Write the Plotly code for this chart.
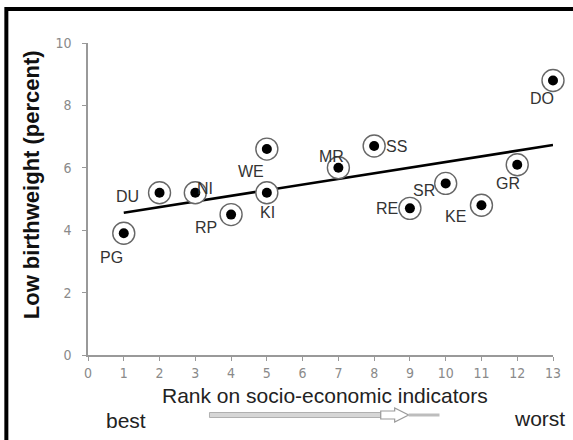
import numpy as np
import plotly.graph_objects as go

# Area codes, their socio-economic rank and low-birthweight rate (%)
codes = ["PG", "DU", "NI", "RP", "WE", "KI", "MR", "SS", "RE", "SR", "KE", "GR", "DO"]
rank = [1, 2, 3, 4, 5, 5, 7, 8, 9, 10, 11, 12, 13]
low_bw = [3.9, 5.2, 5.2, 4.5, 6.6, 5.2, 6.0, 6.7, 4.7, 5.5, 4.8, 6.1, 8.8]

x_ticks = list(range(0, 14))
y_ticks = [0, 2, 4, 6, 8, 10]

# label offsets from each point, in pixels (right, down)
label_offsets = [(-12, 24), (-32, 4), (10, -4), (-25, 13), (-16, 22), (1, 20),
                 (-7, -11), (22, 1), (-23, 0), (-22, 7), (-26, 11), (-9, 19), (-11, 18)]

W, H = 573, 440
L, R, T, B = 88, 18, 43, 85
PW, PH = W - L - R, H - T - B


def px(x):
    return (x - L) / PW


def py(y):
    return (H - B - y) / PH


# least-squares trend line
slope, intercept = np.polyfit(rank, low_bw, 1)
fit_x = [min(rank), max(rank)]
fit_y = [intercept + slope * v for v in fit_x]

fig = go.Figure()
fig.add_trace(go.Scatter(x=fit_x, y=fit_y, mode="lines",
                         line=dict(color="black", width=2.6),
                         hoverinfo="skip", showlegend=False))
fig.add_trace(go.Scatter(x=rank, y=low_bw, mode="markers",
                         marker=dict(size=22, color="white",
                                     line=dict(color="#666", width=1.4)),
                         cliponaxis=False, hoverinfo="skip", showlegend=False))
fig.add_trace(go.Scatter(x=rank, y=low_bw, mode="markers", text=codes,
                         marker=dict(size=10, color="black"),
                         cliponaxis=False, showlegend=False))

annotations = []
for c, xv, yv, (dx, dy) in zip(codes, rank, low_bw, label_offsets):
    annotations.append(dict(x=xv, y=yv, xref="x", yref="y", text=c,
                            showarrow=False, xshift=dx, yshift=-dy,
                            xanchor="center", yanchor="middle",
                            font=dict(family="Liberation Sans, Arial", size=16, color="#333")))

text_font = dict(family="Liberation Sans, Arial", size=21, color="#222")
annotations += [
    dict(x=px(31), y=py(185), xref="paper", yref="paper", text="<b>Low birthweight (percent)</b>",
         textangle=-90, showarrow=False, xanchor="center", yanchor="middle",
         font=dict(family="Liberation Sans, Arial", size=22, color="#111")),
    dict(x=px(326), y=py(395), xref="paper", yref="paper", text="Rank on socio-economic indicators",
         showarrow=False, xanchor="center", yanchor="middle", font=text_font),
    dict(x=px(126), y=py(420), xref="paper", yref="paper", text="best",
         showarrow=False, xanchor="center", yanchor="middle", font=text_font),
    dict(x=px(541), y=py(418), xref="paper", yref="paper", text="worst",
         showarrow=False, xanchor="center", yanchor="middle", font=text_font),
]

shapes = [
    # outer frame
    dict(type="rect", xref="paper", yref="paper", x0=px(6), x1=px(600), y0=py(9), y1=py(480),
         line=dict(color="black", width=4), fillcolor="rgba(0,0,0,0)"),
    # direction arrow under the axis title
    dict(type="rect", xref="paper", yref="paper", x0=px(210), x1=px(382), y0=py(417.5), y1=py(412.5),
         line=dict(color="#b0b0b0", width=1), fillcolor="#d6d6d6"),
    dict(type="path", xref="paper", yref="paper",
         path=(f"M {px(382)},{py(411)} L {px(396)},{py(411)} L {px(396)},{py(408)} "
               f"L {px(410)},{py(415)} L {px(396)},{py(422)} L {px(396)},{py(419)} "
               f"L {px(382)},{py(419)} Z"),
         line=dict(color="#9a9a9a", width=1.2), fillcolor="white"),
    dict(type="line", xref="paper", yref="paper", x0=px(410), x1=px(441), y0=py(415), y1=py(415),
         line=dict(color="#bdbdbd", width=3)),
]

tick_font = dict(family="Liberation Sans Narrow, DejaVu Sans Condensed, Arial", size=14, color="#8a8a8a")

fig.update_layout(
    width=W, height=H, margin=dict(l=L, r=R, t=T, b=B),
    paper_bgcolor="white", plot_bgcolor="white",
    annotations=annotations, shapes=shapes,
    xaxis=dict(range=[0, 13], tickvals=x_ticks, showgrid=False, zeroline=False,
               showline=True, linecolor="#999", linewidth=1.5,
               ticks="outside", ticklen=4, tickcolor="#999", tickfont=tick_font),
    yaxis=dict(range=[0, 10], tickvals=y_ticks, showgrid=False, zeroline=False,
               showline=True, linecolor="#999", linewidth=1.5,
               ticks="outside", ticklen=4, tickcolor="#999", tickfont=tick_font,
               ticklabelstandoff=8),
)

fig.write_html("out.html")
